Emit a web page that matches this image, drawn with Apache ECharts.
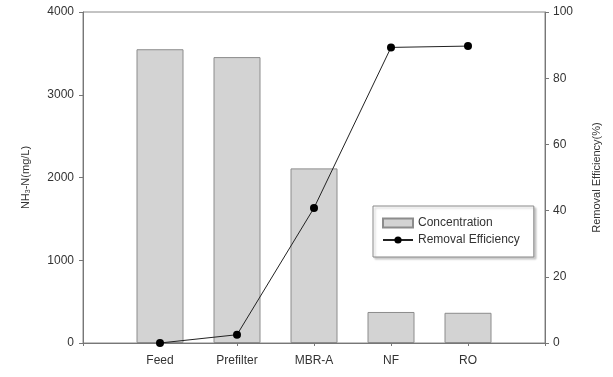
<!DOCTYPE html>
<html><head><meta charset="utf-8">
<script src="https://cdn.jsdelivr.net/npm/echarts@6/dist/echarts.min.js"></script>
<style>html,body{margin:0;padding:0;background:#fff}#c{width:613px;height:377px}</style>
</head><body><div id="c"></div>
<script>
const categories = ['', 'Feed', 'Prefilter', 'MBR-A', 'NF', 'RO', ''];
const concentration = [null, 3550, 3455, 2110, 375, 365, null];
const efficiency = [null, 0, 2.5, 40.8, 89.3, 89.7, null];
const leftTicks = [0, 1000, 2000, 3000, 4000];
const rightTicks = [0, 20, 40, 60, 80, 100];

const chart = echarts.init(document.getElementById('c'));
const font = 'Liberation Sans, Arial, sans-serif';
chart.setOption({
  animation: false,
  textStyle: { fontFamily: font },
  grid: { left: 83, right: 68, top: 12, bottom: 34, show: true, borderColor: '#888', borderWidth: 1 },
  legend: {
    orient: 'vertical', left: 373, top: 206,
    itemWidth: 30, itemHeight: 9, itemGap: 3,
    padding: [10, 14, 10, 9],
    borderColor: '#888', borderWidth: 1,
    shadowColor: 'rgba(0,0,0,0.2)', shadowOffsetX: 2, shadowOffsetY: 2, shadowBlur: 2,
    backgroundColor: '#fff',
    textStyle: { fontSize: 12, lineHeight: 14, color: '#333', fontFamily: font },
    data: [{ name: 'Concentration', icon: 'rect' }, { name: 'Removal Efficiency' }]
  },
  xAxis: {
    type: 'category', data: categories, boundaryGap: false,
    axisLine: { lineStyle: { color: '#777' } },
    axisTick: { length: 3, lineStyle: { color: '#777' }, alignWithLabel: true },
    axisLabel: { color: '#333', fontSize: 12, margin: 12, interval: 0 }
  },
  yAxis: [
    {
      type: 'value', min: 0, max: 4000, interval: 1000,
      name: '{a|NH}{s|3}{a|-N(mg/L)}', nameLocation: 'middle', nameGap: 51, nameRotate: 90,
      nameTextStyle: { rich: { a: { fontSize: 11, color: '#333', fontFamily: font }, s: { fontSize: 7, color: '#333', verticalAlign: 'bottom', padding: [6, 0, 0, 0], fontFamily: font } } },
      splitLine: { show: false },
      axisLine: { show: true, lineStyle: { color: '#777' } },
      axisTick: { show: true, length: 4, lineStyle: { color: '#777' } },
      axisLabel: { color: '#333', fontSize: 12, margin: 9, formatter: v => String(v) }
    },
    {
      type: 'value', min: 0, max: 100, interval: 20,
      name: 'Removal Efficiency(%)', nameLocation: 'middle', nameGap: 46, nameRotate: 90,
      nameTextStyle: { fontSize: 11, color: '#333' },
      splitLine: { show: false },
      axisLine: { show: true, lineStyle: { color: '#777' } },
      axisTick: { show: true, length: 4, lineStyle: { color: '#777' } },
      axisLabel: { color: '#333', fontSize: 12, margin: 8 }
    }
  ],
  series: [
    {
      name: 'Concentration', type: 'bar', yAxisIndex: 0, data: concentration, barWidth: 47,
      itemStyle: { color: '#d3d3d3', borderColor: '#8c8c8c', borderWidth: 1 }
    },
    {
      name: 'Removal Efficiency', type: 'line', yAxisIndex: 1, data: efficiency,
      symbol: 'circle', symbolSize: 8, connectNulls: false,
      lineStyle: { color: '#222', width: 1 },
      itemStyle: { color: '#000' }
    }
  ]
});
</script></body></html>
